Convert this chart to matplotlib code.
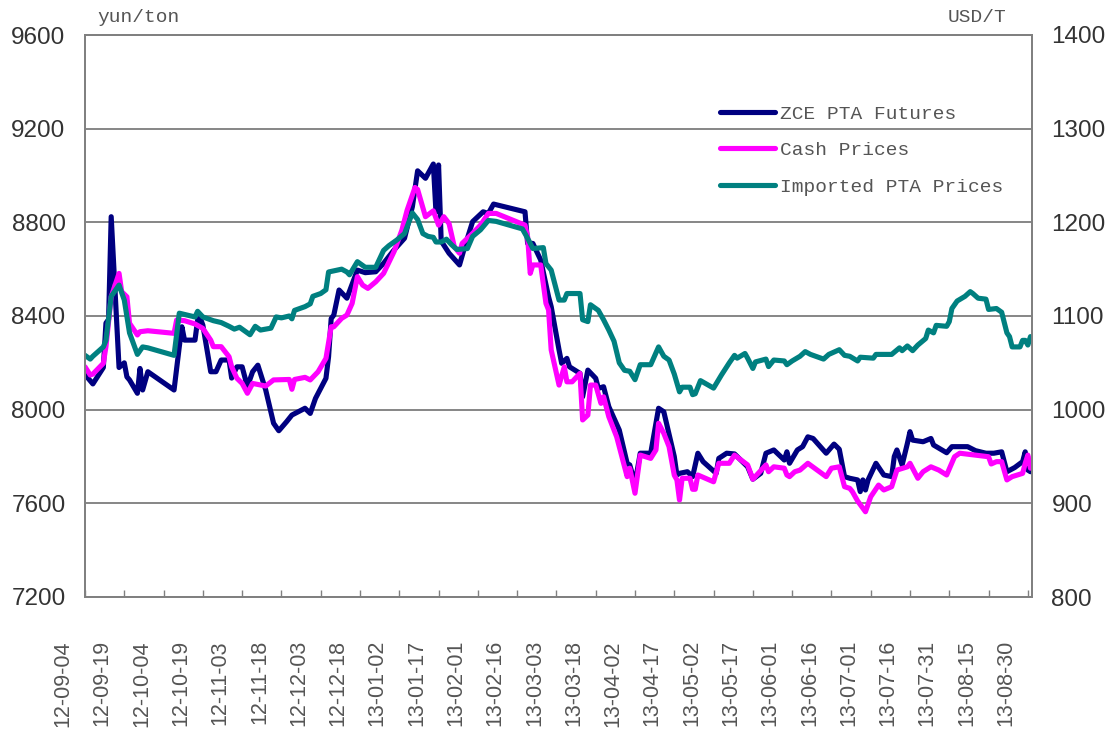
import matplotlib
matplotlib.use("Agg")
import matplotlib.pyplot as plt
import matplotlib.transforms as mtransforms
import pandas as pd

OUTPUT_IMAGE = "out.png"

# ZCE PTA futures, yuan/ton (left axis)
futures_dates = [
    "2012-09-04", "2012-09-07", "2012-09-11", "2012-09-12", "2012-09-13", "2012-09-14", "2012-09-17",
    "2012-09-19", "2012-09-20", "2012-09-21", "2012-09-24", "2012-09-25", "2012-09-26", "2012-09-28",
    "2012-10-08", "2012-10-10", "2012-10-11", "2012-10-12", "2012-10-16", "2012-10-17", "2012-10-18",
    "2012-10-19", "2012-10-22", "2012-10-24", "2012-10-26", "2012-10-29", "2012-10-30",
    "2012-11-01", "2012-11-03", "2012-11-05", "2012-11-07", "2012-11-09", "2012-11-12", "2012-11-15",
    "2012-11-17", "2012-11-20", "2012-11-22", "2012-11-27", "2012-11-29",
    "2012-12-01", "2012-12-05", "2012-12-06", "2012-12-07", "2012-12-08", "2012-12-10", "2012-12-13",
    "2012-12-17", "2012-12-20", "2012-12-24", "2012-12-27", "2012-12-31",
    "2013-01-04", "2013-01-07", "2013-01-09", "2013-01-12", "2013-01-15", "2013-01-16", "2013-01-17",
    "2013-01-18", "2013-01-21", "2013-01-25", "2013-01-27", "2013-01-30",
    "2013-02-03", "2013-02-05", "2013-02-07", "2013-02-19", "2013-02-20", "2013-02-22", "2013-02-25",
    "2013-02-28",
    "2013-03-01", "2013-03-04", "2013-03-05", "2013-03-07", "2013-03-08", "2013-03-12", "2013-03-13",
    "2013-03-15", "2013-03-18", "2013-03-19", "2013-03-21", "2013-03-23", "2013-03-27", "2013-03-30",
    "2013-03-31",
    "2013-04-02", "2013-04-04", "2013-04-08", "2013-04-11", "2013-04-13", "2013-04-17", "2013-04-18",
    "2013-04-19", "2013-04-22", "2013-04-24", "2013-04-26", "2013-04-28",
    "2013-05-03", "2013-05-04", "2013-05-07", "2013-05-10", "2013-05-15", "2013-05-17", "2013-05-20",
    "2013-05-22", "2013-05-25", "2013-05-29", "2013-05-30", "2013-05-31",
    "2013-06-03", "2013-06-05", "2013-06-07", "2013-06-09", "2013-06-14", "2013-06-17", "2013-06-19",
    "2013-06-21", "2013-06-23", "2013-06-26", "2013-06-27", "2013-06-28", "2013-06-29", "2013-06-30",
    "2013-07-03", "2013-07-06", "2013-07-09", "2013-07-10", "2013-07-11", "2013-07-13", "2013-07-15",
    "2013-07-16", "2013-07-17", "2013-07-21", "2013-07-24", "2013-07-25", "2013-07-30",
    "2013-08-01", "2013-08-07", "2013-08-10", "2013-08-14", "2013-08-17", "2013-08-20", "2013-08-22",
    "2013-08-25", "2013-08-28", "2013-08-29", "2013-08-30", "2013-08-31",
]
futures_vals = [
    8150, 8110, 8180, 8370, 8385, 8824, 8180,
    8200, 8140, 8127, 8070, 8176, 8084, 8162,
    8084, 8269, 8354, 8297, 8297, 8383, 8391,
    8361, 8162, 8162, 8212, 8212, 8135,
    8183, 8183, 8098, 8162, 8190, 8084, 7942,
    7910, 7949, 7977, 8006, 7984,
    8048, 8134, 8226, 8389, 8404, 8511, 8476,
    8596, 8585, 8589, 8625, 8682,
    8732, 8867, 9020, 8988, 9049, 8845, 9045,
    8720, 8668, 8618, 8696, 8803,
    8845, 8838, 8878, 8845, 8710, 8710, 8639,
    8482,
    8440, 8255, 8198, 8219, 8183, 8155, 8055,
    8169, 8134, 8091, 8098, 8013, 7913, 7771,
    7764,
    7685, 7814, 7814, 8006, 7991, 7800, 7721,
    7728, 7735, 7714, 7814, 7778,
    7728, 7792, 7814, 7811, 7756, 7703, 7728,
    7814, 7828, 7785, 7820, 7771,
    7828, 7842, 7884, 7877, 7814, 7853, 7831,
    7714, 7707, 7700, 7650, 7700, 7657, 7700,
    7771, 7721, 7714, 7800, 7828, 7764, 7856,
    7906, 7870, 7863, 7877, 7849, 7816,
    7842, 7842, 7825, 7814, 7814, 7820, 7735,
    7753, 7778, 7820, 7742, 7735,
]

# cash prices, yuan/ton (left axis)
cash_dates = [
    "2012-09-04", "2012-09-06", "2012-09-07", "2012-09-11", "2012-09-12", "2012-09-14", "2012-09-17",
    "2012-09-18", "2012-09-20", "2012-09-21", "2012-09-24", "2012-09-25", "2012-09-28",
    "2012-10-08", "2012-10-09", "2012-10-12", "2012-10-16", "2012-10-19", "2012-10-22", "2012-10-23",
    "2012-10-26", "2012-10-29", "2012-10-30",
    "2012-11-01", "2012-11-03", "2012-11-05", "2012-11-07", "2012-11-12", "2012-11-15", "2012-11-21",
    "2012-11-22", "2012-11-23", "2012-11-27", "2012-11-29",
    "2012-12-02", "2012-12-05", "2012-12-07", "2012-12-08", "2012-12-11", "2012-12-13", "2012-12-15",
    "2012-12-17", "2012-12-19", "2012-12-21", "2012-12-24", "2012-12-27", "2012-12-31",
    "2013-01-03", "2013-01-05", "2013-01-08", "2013-01-09", "2013-01-12", "2013-01-15", "2013-01-17",
    "2013-01-19", "2013-01-21", "2013-01-23", "2013-01-25", "2013-01-26", "2013-01-30",
    "2013-02-02", "2013-02-05", "2013-02-08", "2013-02-19", "2013-02-20", "2013-02-21", "2013-02-22",
    "2013-02-25", "2013-02-27", "2013-02-28",
    "2013-03-01", "2013-03-04", "2013-03-06", "2013-03-07", "2013-03-09", "2013-03-12", "2013-03-13",
    "2013-03-15", "2013-03-16", "2013-03-18", "2013-03-20", "2013-03-21", "2013-03-23", "2013-03-26",
    "2013-03-29", "2013-03-30", "2013-03-31",
    "2013-04-02", "2013-04-04", "2013-04-08", "2013-04-10", "2013-04-11", "2013-04-13", "2013-04-15",
    "2013-04-17", "2013-04-18", "2013-04-19", "2013-04-20", "2013-04-23", "2013-04-24", "2013-04-25",
    "2013-04-26",
    "2013-05-02", "2013-05-04", "2013-05-08", "2013-05-10", "2013-05-15", "2013-05-17", "2013-05-22",
    "2013-05-23", "2013-05-25", "2013-05-29", "2013-05-30", "2013-05-31",
    "2013-06-02", "2013-06-04", "2013-06-07", "2013-06-14", "2013-06-16", "2013-06-19", "2013-06-21",
    "2013-06-23", "2013-06-24", "2013-06-26", "2013-06-29",
    "2013-07-01", "2013-07-04", "2013-07-06", "2013-07-09", "2013-07-11", "2013-07-15", "2013-07-16",
    "2013-07-19", "2013-07-21", "2013-07-24", "2013-07-27", "2013-07-30",
    "2013-08-02", "2013-08-04", "2013-08-13", "2013-08-15", "2013-08-16", "2013-08-18", "2013-08-20",
    "2013-08-22", "2013-08-24", "2013-08-28", "2013-08-29", "2013-08-30", "2013-08-31",
]
cash_vals = [
    8183, 8148, 8152, 8198, 8269, 8482, 8582,
    8504, 8482, 8369, 8319, 8333, 8337,
    8326, 8383, 8380, 8366, 8347, 8297, 8269,
    8269, 8226, 8183,
    8134, 8112, 8070, 8112, 8101, 8127, 8129,
    8087, 8129, 8138, 8127,
    8162, 8219, 8354, 8354, 8390, 8404, 8454,
    8568, 8532, 8518, 8546, 8582, 8675,
    8767, 8852, 8949, 8940, 8824, 8849, 8788,
    8824, 8795, 8696, 8668, 8710, 8753,
    8788, 8838, 8838, 8788, 8738, 8582, 8618,
    8618, 8454, 8426,
    8255, 8105, 8183, 8119, 8119, 8155, 7956,
    7977, 8105, 8105, 8027, 8055, 7970, 7884,
    7756, 7714, 7750,
    7643, 7806, 7792, 7828, 7942, 7899, 7842,
    7720, 7700, 7614, 7707, 7707, 7660, 7660,
    7721,
    7692, 7771, 7771, 7806, 7764, 7703, 7764,
    7735, 7756, 7750, 7721, 7714,
    7735, 7742, 7771, 7714, 7750, 7756, 7671,
    7664, 7650, 7610, 7564,
    7628, 7678, 7657, 7671, 7742, 7756, 7771,
    7707, 7735, 7756, 7742, 7721,
    7799, 7814, 7802, 7799, 7768, 7778, 7778,
    7700, 7714, 7728, 7771, 7806, 7750,
]

# imported PTA prices, USD/t (right axis)
imported_dates = [
    "2012-09-04", "2012-09-06", "2012-09-07", "2012-09-11", "2012-09-12", "2012-09-14", "2012-09-17",
    "2012-09-19", "2012-09-21", "2012-09-24", "2012-09-26", "2012-09-28",
    "2012-10-08", "2012-10-10", "2012-10-16", "2012-10-17", "2012-10-19", "2012-10-23", "2012-10-26",
    "2012-10-29", "2012-10-31",
    "2012-11-02", "2012-11-04", "2012-11-06", "2012-11-08", "2012-11-10", "2012-11-14", "2012-11-16",
    "2012-11-18", "2012-11-21", "2012-11-22", "2012-11-23", "2012-11-27", "2012-11-29", "2012-11-30",
    "2012-12-03", "2012-12-05", "2012-12-06", "2012-12-11", "2012-12-13", "2012-12-14", "2012-12-17",
    "2012-12-20", "2012-12-24", "2012-12-27", "2012-12-29",
    "2013-01-01", "2013-01-04", "2013-01-07", "2013-01-09", "2013-01-11", "2013-01-13", "2013-01-15",
    "2013-01-16", "2013-01-18", "2013-01-20", "2013-01-22", "2013-01-24", "2013-01-28", "2013-01-30",
    "2013-02-02", "2013-02-05", "2013-02-08", "2013-02-18", "2013-02-20", "2013-02-22", "2013-02-26",
    "2013-02-27",
    "2013-03-01", "2013-03-04", "2013-03-06", "2013-03-07", "2013-03-12", "2013-03-13", "2013-03-15",
    "2013-03-16", "2013-03-19", "2013-03-21", "2013-03-23", "2013-03-25", "2013-03-27", "2013-03-29",
    "2013-03-31",
    "2013-04-02", "2013-04-04", "2013-04-08", "2013-04-11", "2013-04-13", "2013-04-15", "2013-04-17",
    "2013-04-19", "2013-04-20", "2013-04-23", "2013-04-24", "2013-04-25", "2013-04-27",
    "2013-05-02", "2013-05-05", "2013-05-08", "2013-05-10", "2013-05-11", "2013-05-14", "2013-05-15",
    "2013-05-17", "2013-05-18", "2013-05-22", "2013-05-23", "2013-05-25", "2013-05-29", "2013-05-30",
    "2013-06-01", "2013-06-04", "2013-06-06", "2013-06-08", "2013-06-13", "2013-06-15", "2013-06-19",
    "2013-06-21", "2013-06-23", "2013-06-26", "2013-06-27",
    "2013-07-02", "2013-07-03", "2013-07-09", "2013-07-12", "2013-07-13", "2013-07-15", "2013-07-17",
    "2013-07-19", "2013-07-22", "2013-07-23", "2013-07-25", "2013-07-26", "2013-07-30", "2013-07-31",
    "2013-08-01", "2013-08-03", "2013-08-06", "2013-08-08", "2013-08-09", "2013-08-11", "2013-08-14",
    "2013-08-15", "2013-08-18", "2013-08-20", "2013-08-22", "2013-08-23", "2013-08-24", "2013-08-27",
    "2013-08-28", "2013-08-29", "2013-08-30", "2013-08-31",
]
imported_vals = [
    1058, 1054, 1057, 1067, 1074, 1121, 1133,
    1117, 1082, 1059, 1067, 1066,
    1058, 1103, 1099, 1105, 1099, 1095, 1093,
    1089, 1086,
    1088, 1084, 1080, 1089, 1085, 1087, 1099,
    1098, 1100, 1097, 1106, 1110, 1113, 1121,
    1124, 1128, 1147, 1150, 1147, 1144, 1158,
    1152, 1152, 1170, 1175,
    1181, 1188, 1210, 1203, 1188, 1185, 1184,
    1179, 1179, 1182, 1176, 1171, 1172, 1185,
    1192, 1202, 1201, 1193, 1183, 1172, 1173,
    1156,
    1149, 1117, 1117, 1124, 1124, 1096, 1094,
    1112, 1106, 1096, 1085, 1073, 1050, 1042,
    1041,
    1032, 1048, 1048, 1067, 1057, 1053, 1038,
    1019, 1024, 1024, 1016, 1017, 1031,
    1023, 1037, 1050, 1058, 1055, 1060, 1055,
    1044, 1051, 1054, 1046, 1053, 1052, 1048,
    1052, 1057, 1062, 1059, 1054, 1059, 1064,
    1058, 1057, 1052, 1056,
    1055, 1059, 1059, 1066, 1063, 1068, 1063,
    1069, 1076, 1085, 1082, 1090, 1089, 1094,
    1108, 1116, 1121, 1126, 1124, 1119, 1118,
    1107, 1108, 1104, 1082, 1078, 1067, 1067,
    1074, 1074, 1069, 1078,
]

series_labels = ["ZCE PTA Futures", "Cash Prices", "Imported PTA Prices"]
left_ticks = [7200, 7600, 8000, 8400, 8800, 9200, 9600]
right_ticks = [800, 900, 1000, 1100, 1200, 1300, 1400]

W, H = 1116, 735
fig = plt.figure(figsize=(W / 100, H / 100), dpi=100)
ax = fig.add_axes([85 / W, 1 - 597 / H, (1032 - 85) / W, (597 - 35) / H])
ax2 = ax.twinx()

line_kw = dict(lw=3.7, solid_capstyle="round", solid_joinstyle="round")
l1, = ax.plot(pd.to_datetime(futures_dates), futures_vals, color="#000080", **line_kw)
l2, = ax.plot(pd.to_datetime(cash_dates), cash_vals, color="#FF00FF", **line_kw)
l3, = ax2.plot(pd.to_datetime(imported_dates), imported_vals, color="#008080", **line_kw)

ax.set_xlim(pd.Timestamp("2012-09-04"), pd.Timestamp("2013-08-31 14:00"))
ax.set_ylim(left_ticks[0], left_ticks[-1])
ax2.set_ylim(right_ticks[0], right_ticks[-1])

# x ticks every 15 days, labels rotated and shifted left like the original
ticks = pd.date_range("2012-09-04", "2013-08-31", freq="15D")
ax.set_xticks(ticks)
ax.set_xticklabels([t.strftime("%y-%m-%d") for t in ticks], rotation=90,
                   fontsize=15.5, color="#555555", family="Liberation Sans")
ax.tick_params(axis="x", direction="in", length=5, width=1, color="#808080", pad=31)
shift = mtransforms.ScaledTranslation(-22 / 100, 0, fig.dpi_scale_trans)
for lab in ax.get_xticklabels():
    lab.set_transform(lab.get_transform() + shift)

ax.set_yticks(left_ticks)
ax.set_yticklabels([str(v) for v in left_ticks], fontsize=17.5, color="#333333", family="Liberation Sans")
ax.tick_params(axis="y", length=0, pad=14)
ax2.set_yticks(right_ticks)
ax2.set_yticklabels([str(v) for v in right_ticks], fontsize=17.5, color="#333333", family="Liberation Sans")
ax2.tick_params(axis="y", length=0, pad=14)

ax.yaxis.grid(True, color="#666666", lw=1.1)
ax.set_axisbelow(True)
for a in (ax, ax2):
    for sp in a.spines.values():
        sp.set_color("#808080")
        sp.set_linewidth(1.3)

fig.text(97 / W, 1 - 18 / H, "yun/ton", family="Liberation Mono", fontsize=14,
         color="#555555", ha="left", va="center")
fig.text(1006 / W, 1 - 18 / H, "USD/T", family="Liberation Mono", fontsize=14,
         color="#555555", ha="right", va="center")

leg = ax2.legend([l1, l2, l3], series_labels, loc="upper left",
                 bbox_to_anchor=((720 - 85) / 947, (597 - 105) / 562),
                 frameon=False, prop={"family": "Liberation Mono", "size": 14},
                 handlelength=2.85, handletextpad=0.25, labelspacing=0.98,
                 borderpad=0, borderaxespad=0)
for t in leg.get_texts():
    t.set_color("#555555")

fig.savefig(OUTPUT_IMAGE, dpi=100)
